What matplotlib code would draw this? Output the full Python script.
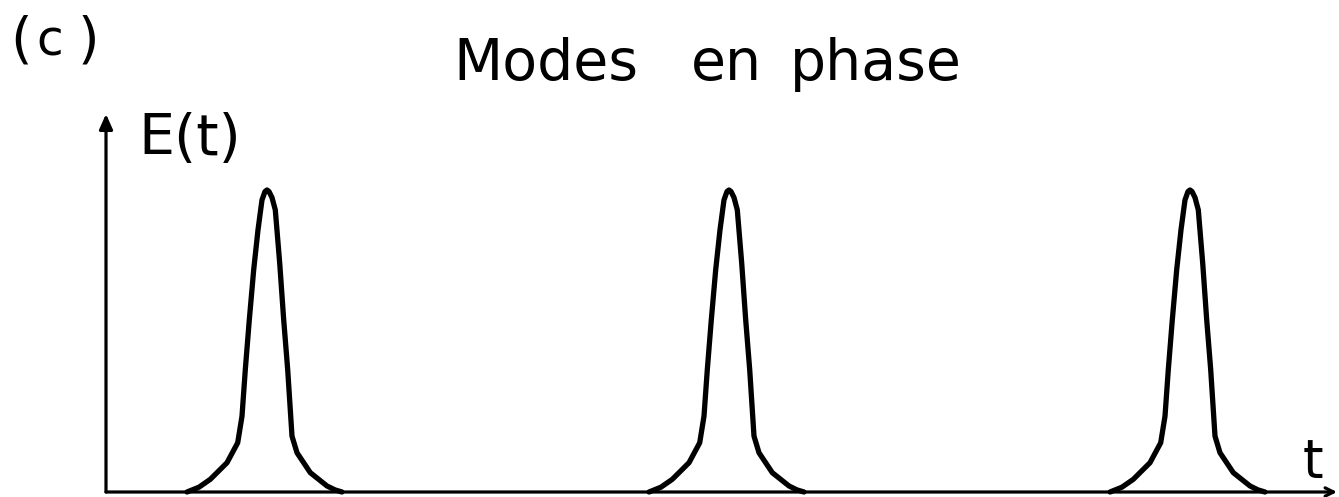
import matplotlib
matplotlib.use("Agg")
import matplotlib.pyplot as plt
import numpy as np

# ---- data ----
# pulse centres, in pixel-like time units measured from the origin
pulse_centers = [161, 623, 1084]
# shape of one pulse: time offset from the centre and relative amplitude
pulse_dt = [-80, -68, -56.7, -40, -29.3, -25, -21.7, -17.7, -13.3, -9, -5, -2, 0,
            2, 5, 8.3, 12.7, 16.7, 20.7, 25, 30, 43.3, 60, 68, 75]
pulse_amp = [0.0, 0.016, 0.042, 0.097, 0.163, 0.251, 0.405, 0.570, 0.736, 0.868, 0.967, 0.995, 1.0,
             0.995, 0.975, 0.934, 0.758, 0.570, 0.405, 0.185, 0.130, 0.064, 0.020, 0.007, 0.0]
title_words = ["Modes", "en", "phase"]
title_word_x = [453, 691, 790]
panel_parts = ["(", "c", ")"]
panel_part_x = [10, 36, 78]
y_label = "E(t)"
x_label = "t"

W, H = 1339, 497
fig = plt.figure(figsize=(W / 100, H / 100), dpi=100)
ax = fig.add_axes([0, 0, 1, 1])
ax.set_axis_off()

# 1 amplitude unit = 302 px ; origin at pixel (106, 492)
ox, oy = 106, 492
scale = 302.0
ax.set_xlim(-ox, W - ox)
ax.set_ylim(-(H - oy) / scale, oy / scale)

# pulses
for c in pulse_centers:
    t = [c + d for d in pulse_dt]
    ax.plot(t, pulse_amp, color="black", lw=3.8, solid_capstyle="round",
            solid_joinstyle="round")

# axes with arrows
ax.annotate("", xy=(0, (oy - 114) / scale), xytext=(0, 0),
            arrowprops=dict(arrowstyle="-|>,head_length=0.9,head_width=0.4",
                            color="black", lw=2.3, shrinkA=0, shrinkB=0))
ax.annotate("", xy=(W - ox - 2, 0), xytext=(0, 0),
            arrowprops=dict(arrowstyle="->,head_length=0.6,head_width=0.3",
                            color="black", lw=2.3, shrinkA=0, shrinkB=0))

# panel label "( c )"
for s, x in zip(panel_parts, panel_part_x):
    if s == "c":
        fig.text(x / W, 1 - 55 / H, s, fontsize=35, ha="left", va="baseline",
                 family="DejaVu Sans")
    else:
        fig.text(x / W, 1 - 57 / H, s, fontsize=40, ha="left", va="baseline",
                 family="DejaVu Sans")

# title
for s, x in zip(title_words, title_word_x):
    fig.text(x / W, 1 - 80 / H, s, fontsize=41, ha="left", va="baseline",
             family="DejaVu Sans")

fig.text(138 / W, 1 - 155 / H, y_label, fontsize=41, ha="left", va="baseline",
         family="DejaVu Sans")
fig.text(1303 / W, 1 - 477 / H, x_label, fontsize=38, ha="left", va="baseline",
         family="DejaVu Sans")

fig.savefig("out.png", dpi=100)
